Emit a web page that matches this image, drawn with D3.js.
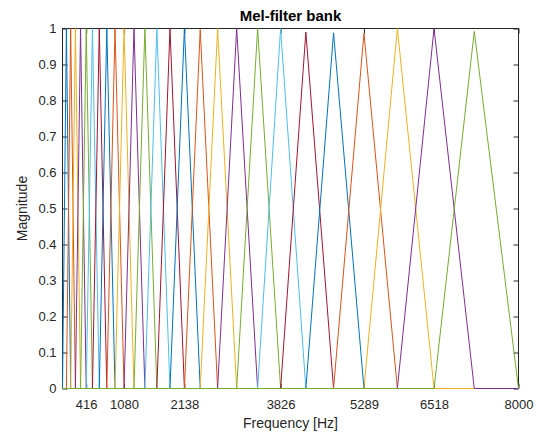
<!DOCTYPE html>
<html>
<head>
<meta charset="utf-8">
<script src="https://cdn.jsdelivr.net/npm/d3@7"></script>
<style>
  html, body { margin: 0; padding: 0; background: #fff; }
  svg { display: block; }
  text { font-family: "Liberation Sans", Arial, Helvetica, sans-serif; }
</style>
</head>
<body>
<svg id="chart" width="538" height="433"></svg>
<script>
// Band edge / centre frequencies of the mel filters (Hz)
const melPointsHz = [0, 68.5, 143.6, 226.2, 316.8, 416.2, 525.4, 645.3, 776.9, 921.4,
  1080.0, 1254.1, 1445.3, 1655.2, 1885.6, 2138.5, 2416.2, 2721.0, 3055.7, 3423.1,
  3826.4, 4269.2, 4755.3, 5288.9, 5874.9, 6518.1, 7224.2, 8000];
// Peak magnitude reached by each of the 26 filters
const peakValues = [1, 1, 1, 1, 1, 1, 1, 1, 1, 1,
  1, 1, 1, 1, 1, 0.997, 1, 1, 1, 1,
  0.990, 0.988, 0.987, 1, 1, 0.992];
const xTickValues = [416, 1080, 2138, 3826, 5289, 6518, 8000];
const xTickLabels = ["416", "1080", "2138", "3826", "5289", "6518", "8000"];
const yTickValues = [0, 0.1, 0.2, 0.3, 0.4, 0.5, 0.6, 0.7, 0.8, 0.9, 1];
const lineColors = ["#0072BD", "#D95319", "#EDB120", "#7E2F8E", "#77AC30", "#4DBEEE", "#A2142F"];
const freqRange = [0, 8000];

const svg = d3.select("#chart");
const L = 62.5, R = 518.5, T = 28.5, B = 388.5;
const x = d3.scaleLinear().domain(freqRange).range([L, R]);
const y = d3.scaleLinear().domain([0, 1]).range([B, T]);
const axisColor = "#262626";

svg.append("rect").attr("width", 538).attr("height", 433).attr("fill", "#fff");

// filters
const filters = peakValues.map((p, i) => [
  [freqRange[0], 0],
  [melPointsHz[i], 0],
  [melPointsHz[i + 1], p],
  [melPointsHz[i + 2], 0],
  [freqRange[1], 0]
]);
const line = d3.line().x(d => x(d[0])).y(d => y(d[1]));
const g = svg.append("g");
filters.forEach((f, i) => {
  g.append("path")
    .attr("d", line(f))
    .attr("fill", "none")
    .attr("stroke", lineColors[i % lineColors.length])
    .attr("stroke-width", 1)
    .attr("stroke-linejoin", "miter");
});

// axes
function styleAxis(sel) {
  sel.selectAll(".domain").remove();
  sel.selectAll(".tick line").attr("stroke", axisColor);
  sel.selectAll(".tick text").attr("fill", axisColor).style("font-size", "13px")
    .style("font-family", '"Liberation Sans", Arial, sans-serif');
}
const xAxis = d3.axisBottom(x).tickValues(xTickValues)
  .tickFormat((d, i) => xTickLabels[i]).tickSizeInner(-5).tickSizeOuter(0).tickPadding(11);
svg.append("g").attr("transform", `translate(0,${B})`).call(xAxis).call(styleAxis);
const xAxisTop = d3.axisTop(x).tickValues(xTickValues).tickFormat("").tickSizeInner(-5).tickSizeOuter(0);
svg.append("g").attr("transform", `translate(0,${T})`).call(xAxisTop).call(styleAxis);
const yAxis = d3.axisLeft(y).tickValues(yTickValues).tickFormat(d3.format("~g"))
  .tickSizeInner(-5).tickSizeOuter(0).tickPadding(6);
svg.append("g").attr("transform", `translate(${L},0)`).call(yAxis).call(styleAxis);
const yAxisRight = d3.axisRight(y).tickValues(yTickValues).tickFormat("").tickSizeInner(-5).tickSizeOuter(0);
svg.append("g").attr("transform", `translate(${R},0)`).call(yAxisRight).call(styleAxis);

svg.append("rect").attr("x", L).attr("y", T).attr("width", R - L).attr("height", B - T)
  .attr("fill", "none").attr("stroke", axisColor).attr("stroke-width", 1);

// redraw filters on top of the frame (MATLAB draws data over axes)
svg.node().appendChild(g.node());

// labels
svg.append("text").attr("x", (L + R) / 2).attr("y", 21).attr("text-anchor", "middle")
  .style("font-size", "15px").style("font-weight", "bold").attr("fill", "#000")
  .text("Mel-filter bank");
svg.append("text").attr("x", (L + R) / 2).attr("y", 428).attr("text-anchor", "middle")
  .style("font-size", "14px").attr("fill", axisColor).text("Frequency [Hz]");
svg.append("text").attr("transform", `translate(27,${(T + B) / 2}) rotate(-90)`)
  .attr("text-anchor", "middle").style("font-size", "14px").attr("fill", axisColor)
  .text("Magnitude");
</script>
</body>
</html>
